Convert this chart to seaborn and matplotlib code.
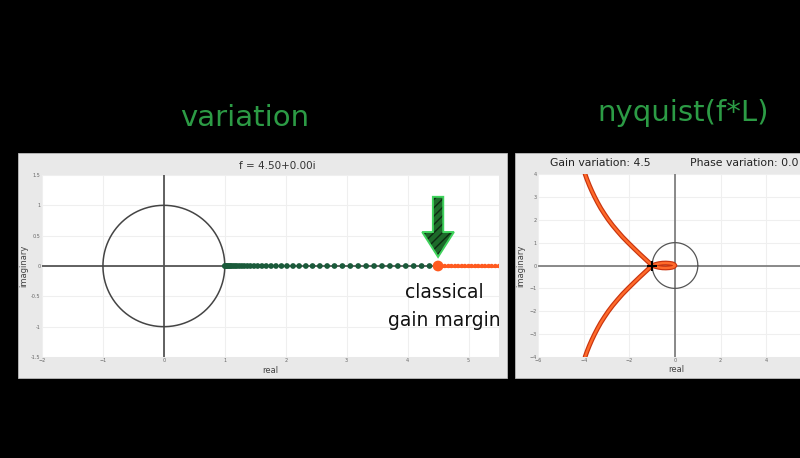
import numpy as np
import pandas as pd
import matplotlib
matplotlib.use("Agg")
import matplotlib.pyplot as plt
import matplotlib.patches as mpatches
import seaborn as sns

# --- DATI ---
# punti verdi lungo l'asse reale (f da 1 a 4.5)
green_re = [1.00, 1.01, 1.02, 1.03, 1.05, 1.07, 1.09, 1.11, 1.14, 1.17, 1.20, 1.24,
            1.28, 1.32, 1.37, 1.42, 1.48, 1.54, 1.61, 1.68, 1.76, 1.84, 1.93, 2.02,
            2.12, 2.22, 2.33, 2.44, 2.56, 2.68, 2.80, 2.93, 3.06, 3.19, 3.32, 3.45,
            3.58, 3.71, 3.84, 3.97, 4.10, 4.23, 4.36]
green_im = [0.0] * len(green_re)
# punti arancioni dopo il margine
orange_re = [4.56, 4.61, 4.67, 4.72, 4.78, 4.83, 4.89, 4.94, 5.00, 5.05, 5.11,
             5.16, 5.22, 5.27, 5.33, 5.38, 5.44, 5.50]
orange_im = [0.0] * len(orange_re)
f_now = 4.5
gain_var = 4.5
phase_var = 0.0

# nyquist di f*L: ramo superiore, ramo inferiore, piccolo anello
upper_re = [-3.94, -3.85, -3.75, -3.64, -3.52, -3.39, -3.25, -3.09, -2.92,
            -2.73, -2.52, -2.30, -2.055, -1.80, -1.54, -1.27, -1.13, -1.00]
upper_im = [4.00, 3.75, 3.50, 3.25, 3.00, 2.75, 2.50, 2.25, 2.00,
            1.75, 1.50, 1.25, 1.00, 0.75, 0.50, 0.25, 0.12, 0.00]
lower_re = [-3.94, -3.85, -3.75, -3.64, -3.52, -3.39, -3.25, -3.09, -2.92,
            -2.73, -2.52, -2.30, -2.055, -1.80, -1.54, -1.27, -1.13, -1.00]
lower_im = [-4.00, -3.75, -3.50, -3.25, -3.00, -2.75, -2.50, -2.25, -2.00,
            -1.75, -1.50, -1.25, -1.00, -0.75, -0.50, -0.25, -0.12, 0.00]
loop_re = [-1.00, -0.85, -0.70, -0.55, -0.40, -0.25, -0.12, -0.04, 0.00,
           -0.04, -0.12, -0.25, -0.40, -0.55, -0.70, -0.85, -1.00]
loop_im = [0.00, 0.05, 0.085, 0.105, 0.11, 0.10, 0.08, 0.045, 0.00,
           -0.045, -0.08, -0.10, -0.11, -0.105, -0.085, -0.05, 0.00]

# cerchio unitario
theta = np.linspace(0, 2 * np.pi, 200)
circ = pd.DataFrame({"re": np.cos(theta), "im": np.sin(theta)})

# --- STILE ---
sns.set_style("whitegrid", {"grid.color": "#efefef", "axes.edgecolor": "#e4e4e4"})
plt.rcParams['font.family'] = ['DejaVu Sans']
plt.rcParams['hatch.linewidth'] = 1.0

BG = "black"
PANEL = "#e9e9e9"
GREEN_TXT = "#2c9b45"
DOT_GREEN = "#1a5a3a"
ORANGE = "#ff5a1f"
AXLINE = "#555555"

fig = plt.figure(figsize=(8, 4.58), dpi=100)
fig.patch.set_facecolor(BG)

# pannelli grigi chiari (dietro gli assi)
fig.patches.append(mpatches.Rectangle((18 / 800, 1 - 378 / 458), 489 / 800, 225 / 458,
                                      transform=fig.transFigure, facecolor=PANEL,
                                      edgecolor="#bbbbbb", lw=0.6, zorder=-5))
fig.patches.append(mpatches.Rectangle((515 / 800, 1 - 378 / 458), 300 / 800, 225 / 458,
                                      transform=fig.transFigure, facecolor=PANEL,
                                      edgecolor="#bbbbbb", lw=0.6, zorder=-5))

fig.text(245 / 800, 1 - 118 / 458, "variation", color=GREEN_TXT, fontsize=21,
         ha="center", va="center")
fig.text(683 / 800, 1 - 113 / 458, "nyquist(f*L)", color=GREEN_TXT, fontsize=21,
         ha="center", va="center")

# ---------------- pannello sinistro ----------------
ax1 = fig.add_axes([42 / 800, 1 - 357 / 458, 457 / 800, 182 / 458])
ax1.set_facecolor("white")
ax1.plot(circ["re"], circ["im"], color="#444444", lw=1.1, zorder=2)
ax1.axhline(0, color=AXLINE, lw=1.3, zorder=1)
ax1.axvline(0, color=AXLINE, lw=1.3, zorder=1)
sns.scatterplot(x=green_re, y=green_im, ax=ax1, color=DOT_GREEN, s=17,
                edgecolor="none", zorder=3)
ax1.plot(orange_re, orange_im, color=ORANGE, lw=2.0, zorder=3)
sns.scatterplot(x=orange_re, y=orange_im, ax=ax1, color=ORANGE, s=10,
                edgecolor="none", zorder=3)
sns.scatterplot(x=[f_now], y=[0.0], ax=ax1, color=ORANGE, s=60,
                edgecolor="none", zorder=4)

# freccia verde tratteggiata
arrow_kw = dict(width=0.17, head_width=0.52, head_length=0.41, length_includes_head=True)
ax1.add_patch(mpatches.FancyArrow(f_now, 1.14, 0, -0.99, facecolor="#1d6a2a",
                                  edgecolor="#0d2a12", lw=0, hatch="////",
                                  zorder=5, **arrow_kw))
ax1.add_patch(mpatches.FancyArrow(f_now, 1.14, 0, -0.99, facecolor="none",
                                  edgecolor="#3fd35c", lw=1.4, zorder=6, **arrow_kw))
ax1.text(4.60, -0.43, "classical", ha="center", va="center", fontsize=13.5,
         color="#111111", zorder=5)
ax1.text(4.60, -0.90, "gain margin", ha="center", va="center", fontsize=13.5,
         color="#111111", zorder=5, clip_on=False)

ax1.set_xlim(-2, 5.5)
ax1.set_ylim(-1.5, 1.5)
ax1.set_xticks([-2, -1, 0, 1, 2, 3, 4, 5])
ax1.set_yticks([-1.5, -1, -0.5, 0, 0.5, 1, 1.5])
ax1.set_yticklabels(["-1.5", "-1", "-0.5", "0", "0.5", "1", "1.5"])
ax1.tick_params(labelsize=3.5, colors="#666666", pad=1, length=0)
ax1.set_xlabel("real", fontsize=6, color="#444444", labelpad=2)
ax1.set_ylabel("imaginary", fontsize=6, color="#444444", labelpad=2)
ax1.set_title("f = %.2f+0.00i" % f_now, fontsize=7.5, color="#333333", pad=4,
              x=(277 - 42) / 457)
for sp in ax1.spines.values():
    sp.set_visible(False)

# ---------------- pannello destro ----------------
ax2 = fig.add_axes([538 / 800, 1 - 357 / 458, 274 / 800, 183 / 458])
ax2.set_facecolor("white")
ax2.plot(circ["re"], circ["im"], color="#555555", lw=0.9, zorder=2)
ax2.axhline(0, color="#808080", lw=1.3, zorder=1)
ax2.axvline(0, color="#808080", lw=1.3, zorder=1)
for xs, ys in [(upper_re, upper_im), (lower_re, lower_im), (loop_re, loop_im)]:
    sns.lineplot(x=xs, y=ys, ax=ax2, sort=False, color="#c8340f", lw=3.4,
                 estimator=None, zorder=3)
    sns.lineplot(x=xs, y=ys, ax=ax2, sort=False, color="#ff6a2a", lw=1.7,
                 estimator=None, zorder=4)
ax2.plot([-1], [0], marker="+", color="black", ms=7, mew=1.5, zorder=5)
ax2.set_xlim(-6, 6)
ax2.set_ylim(-4, 4)
ax2.set_xticks([-6, -4, -2, 0, 2, 4])
ax2.set_yticks([-4, -3, -2, -1, 0, 1, 2, 3, 4])
ax2.tick_params(labelsize=3.5, colors="#666666", pad=1, length=0)
ax2.set_xlabel("real", fontsize=6, color="#444444", labelpad=2)
ax2.set_ylabel("imaginary", fontsize=6, color="#444444", labelpad=3)
ax2.xaxis.set_label_coords((676 - 538) / 274, -0.045)
for sp in ax2.spines.values():
    sp.set_visible(False)

fig.text(600 / 800, 1 - 163 / 458, "Gain variation: %.1f" % gain_var, fontsize=7.8,
         color="#222222", ha="center", va="center")
fig.text(744 / 800, 1 - 163 / 458, "Phase variation: %.1f" % phase_var, fontsize=7.8,
         color="#222222", ha="center", va="center")

fig.savefig("out.png", dpi=100, facecolor=BG)
